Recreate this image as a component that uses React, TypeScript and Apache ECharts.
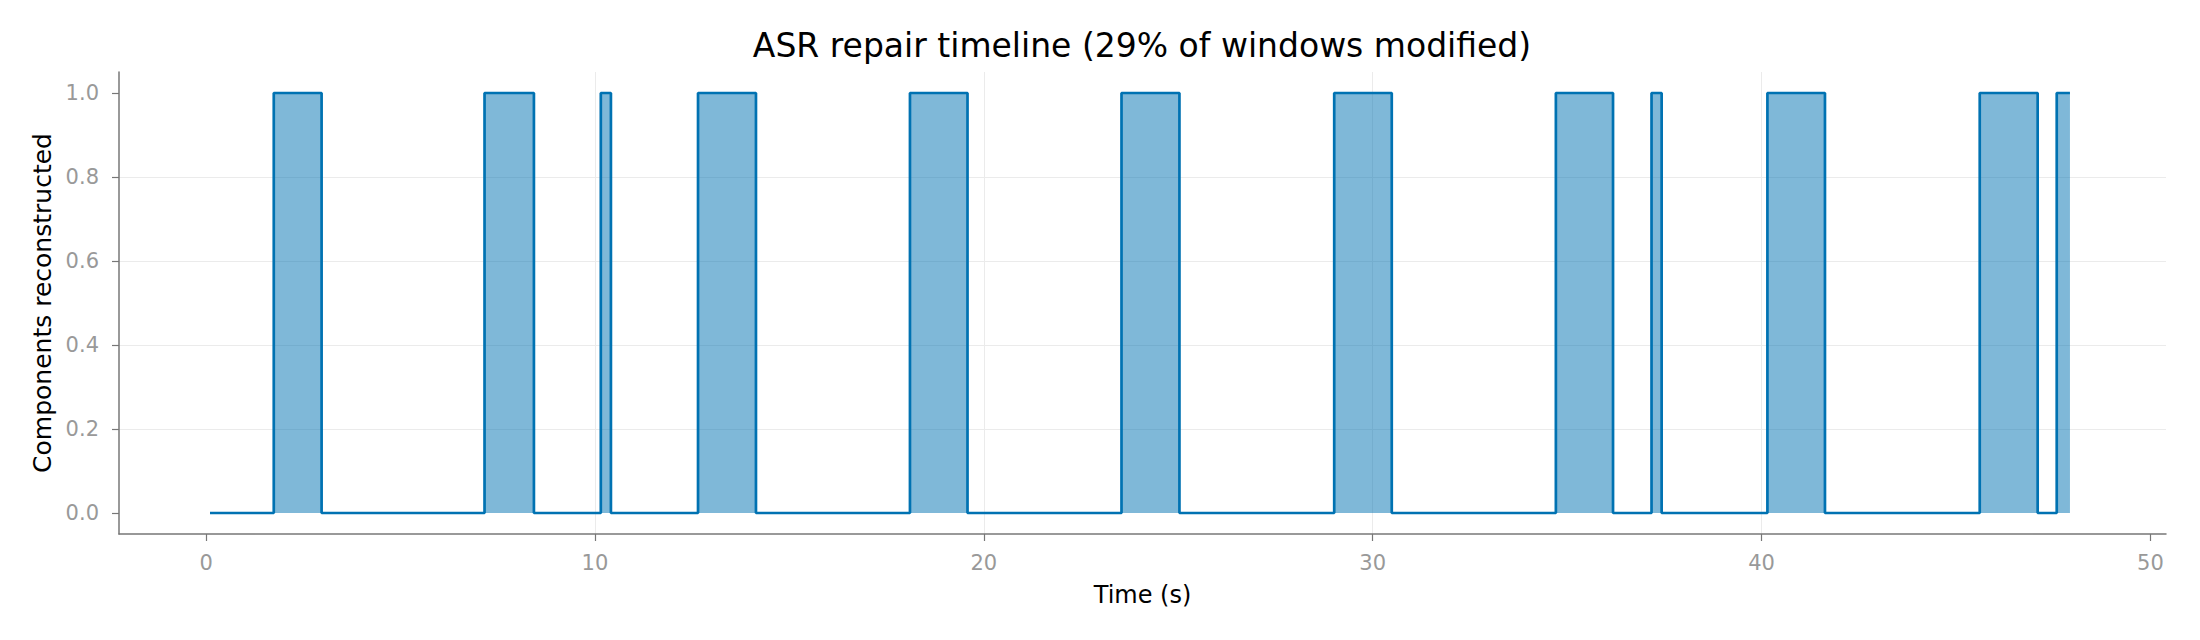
import { useEffect, useRef } from "react";
import * as echarts from "echarts";

// transition times (s) of the step series and the value held from each one on
const stepTimes = [
  0.1, 1.74, 2.97, 7.16, 8.43, 10.15, 10.41, 12.65, 14.14, 18.1, 19.58, 23.54, 25.03,
  29.01, 30.49, 34.71, 36.18, 37.17, 37.43, 40.15, 41.63, 45.61, 47.1, 47.59, 47.93,
];
const stepValues = [0, 1, 0, 1, 0, 1, 0, 1, 0, 1, 0, 1, 0, 1, 0, 1, 0, 1, 0, 1, 0, 1, 0, 1, 1];

const xTicks = [0, 10, 20, 30, 40, 50];
const yTicks = [0, 0.2, 0.4, 0.6, 0.8, 1.0];

const TITLE = "ASR repair timeline (29% of windows modified)";
const FONT = "DejaVu Sans";
const BLUE = "#0072B2";
const SPINE = "#777777";
const GRID = "#ebebeb";
const TICK_TEXT = "#999999";

const App = () => {
  const chartRef = useRef<HTMLDivElement>(null);

  useEffect(() => {
    document.body.style.margin = "0";
    if (!chartRef.current) return;
    const chart = echarts.init(chartRef.current, undefined, { renderer: "svg" });

    const option = {
      animation: false,
      backgroundColor: "#ffffff",
      textStyle: { fontFamily: FONT },
      title: {
        text: TITLE,
        left: 1142,
        top: 29,
        textAlign: "center",
        padding: 0,
        textStyle: { fontFamily: FONT, fontSize: 33, fontWeight: "normal", color: "#000" },
      },
      grid: {
        left: 119,
        right: 34,
        top: 72,
        bottom: 106,
        containLabel: false,
        outerBoundsMode: "none",
      },
      xAxis: {
        type: "value",
        min: -2.24,
        max: 50.4,
        name: "Time (s)",
        nameLocation: "middle",
        nameGap: 49,
        nameTextStyle: { fontFamily: FONT, fontSize: 24, color: "#000" },
        axisLine: { show: true, onZero: false, lineStyle: { color: SPINE, width: 1.5 } },
        axisTick: {
          show: true,
          length: 7,
          customValues: xTicks,
          lineStyle: { color: SPINE, width: 1.2 },
        },
        axisLabel: {
          customValues: xTicks,
          margin: 18,
          fontSize: 21,
          color: TICK_TEXT,
          fontFamily: FONT,
        },
        splitLine: {
          show: true,
          showMinLine: false,
          showMaxLine: false,
          lineStyle: { color: GRID, width: 1 },
        },
      },
      yAxis: {
        type: "value",
        min: -0.05,
        max: 1.05,
        name: "Components reconstructed",
        nameLocation: "middle",
        nameGap: 64,
        nameTextStyle: { fontFamily: FONT, fontSize: 25, color: "#000" },
        axisLine: { show: true, onZero: false, lineStyle: { color: SPINE, width: 1.5 } },
        axisTick: {
          show: true,
          length: 7,
          customValues: yTicks,
          lineStyle: { color: SPINE, width: 1.2 },
        },
        axisLabel: {
          customValues: yTicks,
          margin: 20,
          fontSize: 21,
          color: TICK_TEXT,
          fontFamily: FONT,
          formatter: (v: number) => v.toFixed(1),
        },
        splitLine: {
          show: true,
          showMinLine: false,
          showMaxLine: false,
          lineStyle: { color: GRID, width: 1 },
        },
      },
      series: [
        {
          type: "line",
          step: "end",
          showSymbol: false,
          data: stepTimes.map((t, i) => [t, stepValues[i]]),
          lineStyle: { color: BLUE, width: 2.7 },
          itemStyle: { color: BLUE },
          areaStyle: { color: BLUE, opacity: 0.5 },
        },
      ],
    };

    chart.setOption(option);

    return () => {
      chart.dispose();
    };
  }, []);

  return <div ref={chartRef} style={{ width: "2200px", height: "640px" }} />;
};

export default App;
